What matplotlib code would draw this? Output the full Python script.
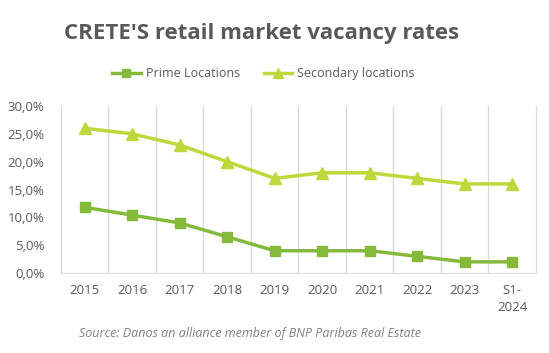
import matplotlib
matplotlib.use("Agg")
import matplotlib.pyplot as plt
from matplotlib.ticker import FuncFormatter

categories = ["2015", "2016", "2017", "2018", "2019", "2020", "2021", "2022", "2023", "S1-\n2024"]
prime = [11.8, 10.4, 9.0, 6.5, 4.0, 4.0, 4.0, 3.0, 2.0, 2.0]
secondary = [26.0, 25.0, 23.0, 20.0, 17.0, 18.0, 18.0, 17.0, 16.0, 16.0]

prime_color = "#84B93A"
sec_color = "#BFD73A"
text_color = "#595959"

plt.rcParams['font.family'] = ['Open Sans', 'DejaVu Sans']

fig = plt.figure(figsize=(5.49, 3.53), dpi=100)
ax = fig.add_axes([0.111, 0.2266, 0.865, 0.4731])

x = list(range(len(categories)))
ax.plot(x, prime, color=prime_color, lw=2.5, marker="s", ms=7, label="Prime Locations")
ax.plot(x, secondary, color=sec_color, lw=2.5, marker="^", ms=8, label="Secondary locations")

ax.set_xlim(-0.5, len(categories) - 0.5)
ax.set_ylim(0, 30)
ax.set_yticks(range(0, 31, 5))
ax.yaxis.set_major_formatter(FuncFormatter(lambda v, p: f"{v:.1f}%".replace(".", ",")))
ax.set_xticks(x)
ax.set_xticklabels(categories, fontsize=9.5, color=text_color, linespacing=1.35)
ax.tick_params(axis="y", labelsize=9.5, colors=text_color, length=0, pad=12)
ax.tick_params(axis="x", length=0, pad=8)
for lbl in ax.get_xticklabels():
    lbl.set_verticalalignment("top")

for b in [i + 0.5 for i in range(len(categories) - 1)]:
    ax.axvline(b, color="#D9D9D9", lw=1, zorder=0)
for s in ["left", "right", "bottom"]:
    ax.spines[s].set_color("#D9D9D9")
ax.spines["top"].set_visible(False)

fig.text(0.476, 0.905, "CRETE'S retail market vacancy rates", ha="center", va="center",
         fontsize=16, fontweight="bold", color="#595959")
leg = ax.legend(loc="center", bbox_to_anchor=(0.48, 0.791), bbox_transform=fig.transFigure,
                ncol=2, frameon=False, fontsize=9, labelcolor=text_color, handlelength=2.3,
                columnspacing=1.9, handletextpad=0.4, markerscale=0.85)

fig.text(0.455, 0.055, "Source: Danos an alliance member of BNP Paribas Real Estate",
         ha="center", va="center", fontsize=9, style="italic", color="#7F7F7F")

fig.savefig("out.png", dpi=100)
